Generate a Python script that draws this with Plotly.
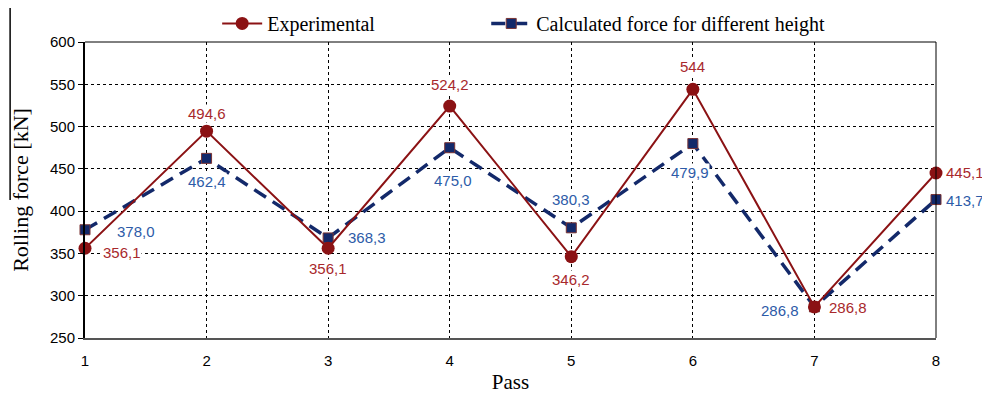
import plotly.graph_objects as go

passes = [1, 2, 3, 4, 5, 6, 7, 8]
experimental = [356.1, 494.6, 356.1, 524.2, 346.2, 544.0, 286.8, 445.1]
calculated = [378.0, 462.4, 368.3, 475.0, 380.3, 479.9, 286.8, 413.7]
exp_labels = ["356,1", "494,6", "356,1", "524,2", "346,2", "544", "286,8", "445,1"]
calc_labels = ["378,0", "462,4", "368,3", "475,0", "380,3", "479,9", "286,8", "413,7"]

# label placement offsets in pixels (x right, y up)
exp_shift = [(37, -4), (0, 18), (0, -20), (0, 22), (0, -23), (0, 23), (34, -1), (29, 1)]
calc_shift = [(51, -2), (0, -23), (39, 0), (3, -33), (0, 28), (-3, -29), (-34, -4), (29, -1)]

RED = "#8B1214"
RED_TXT = "#A8282C"
NAVY = "#13296A"
BLUE_TXT = "#2D5BA8"
SANS = "Liberation Sans, Arial"
SERIF = "Liberation Serif, Times New Roman"

fig = go.Figure()
fig.add_trace(go.Scatter(
    x=passes, y=calculated, name="Calculated force for different height",
    mode="lines+markers", legend="legend2",
    line=dict(color=NAVY, width=3.5, dash="14px,8px"),
    marker=dict(symbol="square", size=10, color=NAVY, line=dict(color="#7A3434", width=1)),
    cliponaxis=False,
))
fig.add_trace(go.Scatter(
    x=passes, y=experimental, name="Experimental",
    mode="lines+markers", legend="legend",
    line=dict(color=RED, width=2),
    marker=dict(symbol="circle", size=13, color=RED),
    cliponaxis=False,
))

annotations = []
for xv, yv, t, (dx, dy) in zip(passes, experimental, exp_labels, exp_shift):
    annotations.append(dict(x=xv, y=yv, text=t, showarrow=False, xshift=dx, yshift=dy,
                            bgcolor="white", borderpad=0,
                            font=dict(family=SANS, size=15, color=RED_TXT)))
for xv, yv, t, (dx, dy) in zip(passes, calculated, calc_labels, calc_shift):
    annotations.append(dict(x=xv, y=yv, text=t, showarrow=False, xshift=dx, yshift=dy,
                            bgcolor="white", borderpad=0,
                            font=dict(family=SANS, size=15, color=BLUE_TXT)))

leg_common = dict(orientation="h", xanchor="left", yref="container", y=0.96, yanchor="middle",
                  xref="container", font=dict(family=SERIF, size=20, color="black"),
                  itemwidth=40, bgcolor="rgba(0,0,0,0)")

fig.update_layout(
    width=982, height=386,
    margin=dict(l=77, r=54, t=34, b=56, autoexpand=False),
    paper_bgcolor="white", plot_bgcolor="white",
    showlegend=True,
    legend=dict(x=0.213, **leg_common),
    legend2=dict(x=0.487, **leg_common),
    xaxis=dict(
        range=[1, 8], tickvals=passes, ticktext=[str(p) for p in passes],
        showgrid=True, gridcolor="black", griddash="dot", gridwidth=1,
        showline=True, linecolor="#555555", linewidth=2,
        ticks="outside", ticklen=8, tickcolor="rgba(0,0,0,0)",
        tickfont=dict(family=SANS, size=15, color="black"),
        title=dict(text="Pass", standoff=8,
                   font=dict(family=SERIF, size=21, color="black")),
        zeroline=False, automargin=False,
    ),
    yaxis=dict(
        range=[250, 600], tickvals=[250, 300, 350, 400, 450, 500, 550, 600],
        showgrid=True, gridcolor="black", griddash="dot", gridwidth=1,
        showline=True, linecolor="black", linewidth=2,
        ticks="outside", ticklen=5, tickcolor="black",
        tickfont=dict(family=SANS, size=15, color="black"),
        title=dict(text="Rolling force [kN]", standoff=18,
                   font=dict(family=SERIF, size=22, color="black")),
        zeroline=False, automargin=False,
    ),
    annotations=annotations,
    shapes=[
        dict(type="line", xref="paper", yref="paper", x0=0, x1=1, y0=1, y1=1,
             line=dict(color="black", width=1)),
        dict(type="line", xref="paper", yref="paper", x0=1, x1=1, y0=0, y1=1,
             line=dict(color="black", width=1)),
        dict(type="line", xref="paper", yref="paper", x0=-0.088, x1=-0.088, y0=0.466, y1=1.12,
             line=dict(color="black", width=1.5)),
    ],
)

fig.write_html("out.html")
